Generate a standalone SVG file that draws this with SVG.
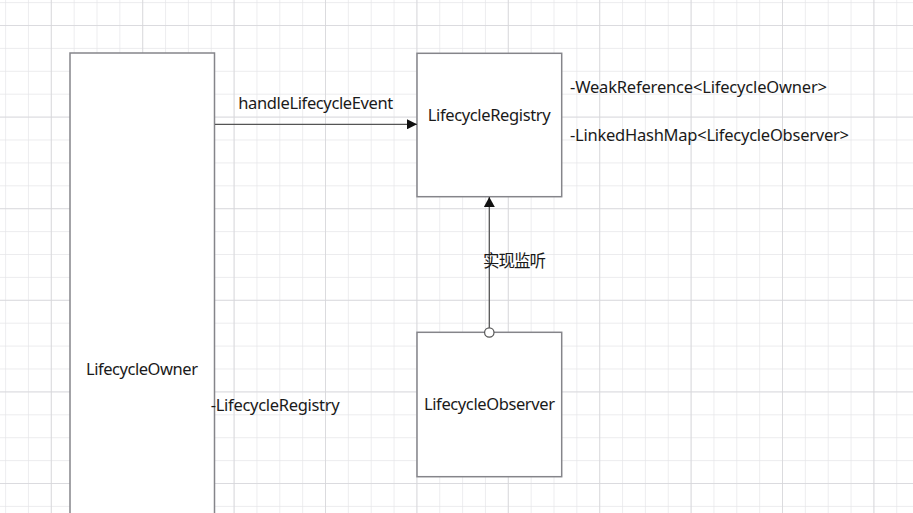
<svg xmlns="http://www.w3.org/2000/svg" width="913" height="513" viewBox="0 0 913 513">
  <style>
    .box { fill: #ffffff; stroke: #85858a; stroke-width: 1.5; }
    .lbl { font-family: "Noto Sans", "Noto Sans CJK SC", sans-serif; font-size: 16.5px; fill: #1a1a1a; }
    .conn { stroke: #555555; stroke-width: 1.3; fill: none; }
  </style>
  <defs>
    <pattern id="minor" patternUnits="userSpaceOnUse" x="5.1" y="2.1" width="22.85" height="22.9">
      <path d="M 0 0 H 22.85 M 0 0 V 22.9" stroke="#e6e6e9" stroke-width="1.4" fill="none"/>
    </pattern>
    <pattern id="major" patternUnits="userSpaceOnUse" x="50.8" y="25" width="91.4" height="91.6">
      <path d="M 0 0 H 91.4 M 0 0 V 91.6" stroke="#d6d6da" stroke-width="1.6" fill="none"/>
    </pattern>
    <marker id="arrow" viewBox="0 0 10 10" refX="10" refY="5" markerWidth="10" markerHeight="10" markerUnits="userSpaceOnUse" orient="auto">
      <path d="M 0 0 L 10 5 L 0 10 Z" fill="#111111"/>
    </marker>
    <marker id="arrowBig" viewBox="0 0 10 11" refX="10" refY="5.5" markerWidth="10" markerHeight="11" markerUnits="userSpaceOnUse" orient="auto">
      <path d="M 0 0 L 10 5.5 L 0 11 Z" fill="#111111"/>
    </marker>
  </defs>

  <rect x="0" y="0" width="913" height="513" fill="#ffffff"/>
  <rect x="0" y="0" width="913" height="513" fill="url(#minor)"/>
  <rect x="0" y="0" width="913" height="513" fill="url(#major)"/>

  <g id="lifecycleOwner">
    <rect class="box" x="70" y="53" width="144.5" height="480"/>
    <text class="lbl" x="86" y="375" textLength="112">LifecycleOwner</text>
    <text class="lbl" x="210.7" y="411" textLength="129">-LifecycleRegistry</text>
  </g>

  <g id="lifecycleRegistry">
    <rect class="box" x="417" y="53.3" width="144.7" height="143.4"/>
    <text class="lbl" x="427.7" y="121" textLength="123">LifecycleRegistry</text>
    <text class="lbl" x="570" y="93.3" textLength="257">-WeakReference&lt;LifecycleOwner&gt;</text>
    <text class="lbl" x="570" y="141" textLength="279">-LinkedHashMap&lt;LifecycleObserver&gt;</text>
  </g>

  <g id="lifecycleObserver">
    <rect class="box" x="417" y="332.3" width="144.7" height="144.4"/>
    <text class="lbl" x="424" y="410" textLength="131">LifecycleObserver</text>
  </g>

  <g id="connectors">
    <line class="conn" x1="215" y1="124.3" x2="417" y2="124.3" marker-end="url(#arrow)"/>
    <line class="conn" x1="489.3" y1="328" x2="489.3" y2="197" marker-end="url(#arrowBig)"/>
    <circle cx="489.3" cy="332.5" r="4.7" fill="#ffffff" stroke="#555555" stroke-width="1.2"/>
    <text class="lbl" x="238.3" y="109.3" textLength="155">handleLifecycleEvent</text>
    <text class="lbl" x="483" y="266.7" textLength="63">实现监听</text>
  </g>
</svg>
